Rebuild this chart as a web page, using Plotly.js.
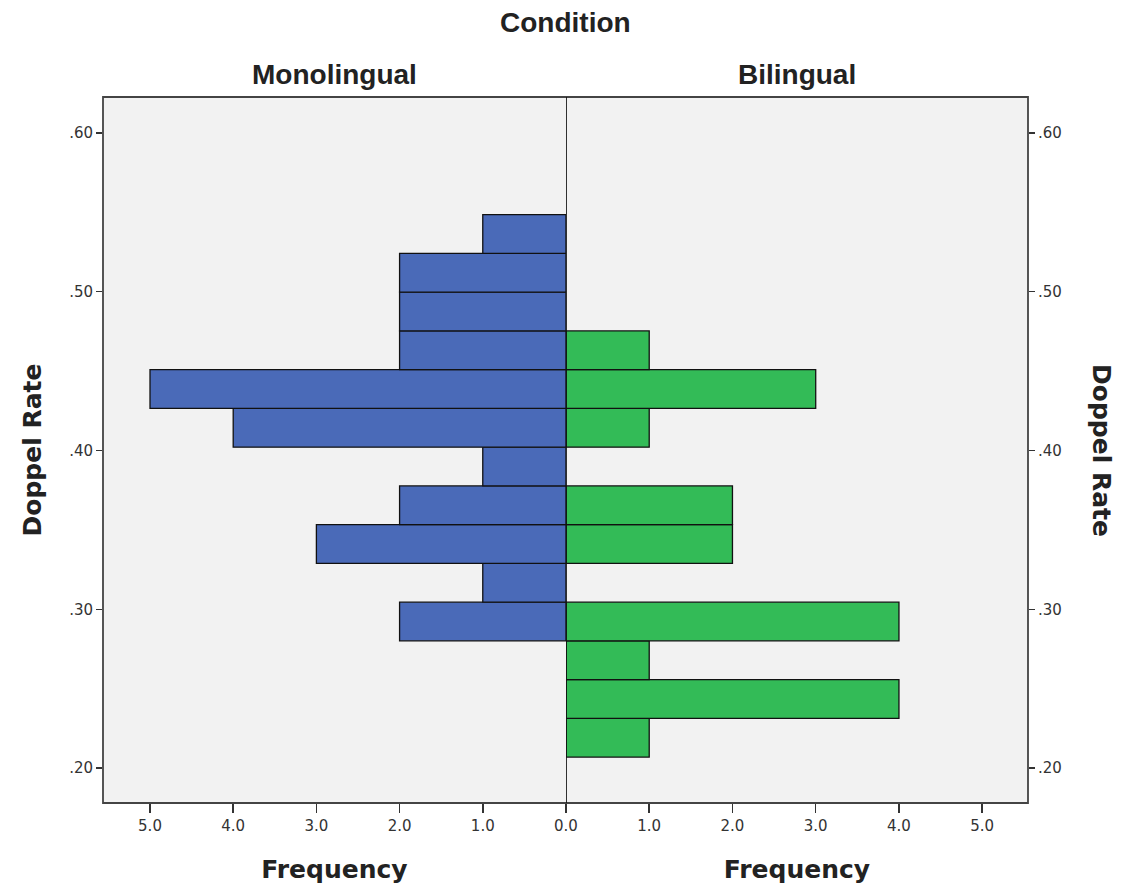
<!DOCTYPE html>
<html>
<head>
<meta charset="utf-8">
<script src="https://cdn.plot.ly/plotly-3.0.1.min.js"></script>
<style>html,body{margin:0;padding:0;background:#fff}#chart{width:1126px;height:887px}</style>
</head>
<body>
<div id="chart"></div>
<script>
// Histogram bins (centre of each bin on Doppel Rate)
var binCenters = [0.2191, 0.2435, 0.2679, 0.2923, 0.3167, 0.3411, 0.3655, 0.3899, 0.4143, 0.4387, 0.4631, 0.4875, 0.5119, 0.5363];
var binWidth = 0.0244;
var monolingualCounts = [null, null, null, 2, 1, 3, 2, 1, 4, 5, 2, 2, 2, 1];
var bilingualCounts   = [1, 4, 1, 4, null, 2, 2, null, 1, 3, 1, null, null, null];
var panelNames = ['Monolingual', 'Bilingual'];
var yTickVals = [0.2, 0.3, 0.4, 0.5, 0.6];
var yTickText = ['.20', '.30', '.40', '.50', '.60'];
var xTickValsLeft = [1, 2, 3, 4, 5];
var xTickTextLeft = ['1.0', '2.0', '3.0', '4.0', '5.0'];
var xTickValsRight = [0, 1, 2, 3, 4, 5];
var xTickTextRight = ['0.0', '1.0', '2.0', '3.0', '4.0', '5.0'];

var widths = binCenters.map(function(){ return binWidth; });
var yRange = [0.178, 0.6226];
var tickFont = {family: 'DejaVu Sans, sans-serif', size: 15, color: '#333'};
var boldFont = {family: 'DejaVu Sans, sans-serif', size: 25, color: '#222', weight: 'bold'};
var narrowFont = {family: 'Liberation Sans Narrow, Arial Narrow, Liberation Sans, sans-serif', size: 28, color: '#222', weight: 'bold'};

var traces = [
  {type: 'bar', orientation: 'h', name: panelNames[0], y: binCenters, x: monolingualCounts, width: widths,
   xaxis: 'x', yaxis: 'y', marker: {color: '#4a6ab8', line: {color: '#111', width: 1.3}}, hoverinfo: 'x+y'},
  {type: 'bar', orientation: 'h', name: panelNames[1], y: binCenters, x: bilingualCounts, width: widths,
   xaxis: 'x2', yaxis: 'y', marker: {color: '#33bb57', line: {color: '#111', width: 1.3}}, hoverinfo: 'x+y'},
  {type: 'scatter', mode: 'markers', x: [0], y: [0.4], xaxis: 'x2', yaxis: 'y2', marker: {opacity: 0}, hoverinfo: 'skip', showlegend: false}
];

var layout = {
  width: 1126, height: 887,
  margin: {l: 103, r: 98, t: 97, b: 84},
  paper_bgcolor: '#ffffff',
  plot_bgcolor: '#f2f2f2',
  showlegend: false,
  bargap: 0,
  xaxis: {domain: [0, 0.5005], range: [5.565, 0], tickvals: xTickValsLeft, ticktext: xTickTextLeft,
    ticks: 'outside', ticklen: 9, tickwidth: 1.5, tickcolor: '#333', tickfont: tickFont, showgrid: false, zeroline: false,
    showline: false, anchor: 'y',
    title: {text: 'Frequency', font: boldFont, standoff: 26}},
  xaxis2: {domain: [0.5005, 1], range: [0, 5.55], tickvals: xTickValsRight, ticktext: xTickTextRight,
    ticks: 'outside', ticklen: 9, tickwidth: 1.5, tickcolor: '#333', tickfont: tickFont, showgrid: false, zeroline: false,
    showline: false, anchor: 'y',
    title: {text: 'Frequency', font: boldFont, standoff: 26}},
  yaxis: {range: yRange, tickvals: yTickVals, ticktext: yTickText, ticks: 'outside', ticklen: 6, tickwidth: 1.5,
    tickcolor: '#333', tickfont: tickFont, showgrid: false, zeroline: false, showline: false, anchor: 'x',
    title: {text: 'Doppel Rate', font: boldFont, standoff: 20}},
  yaxis2: {range: yRange, tickvals: yTickVals, ticktext: yTickText, ticks: 'outside', ticklen: 6, tickwidth: 1.5,
    tickcolor: '#333', tickfont: tickFont, showgrid: false, zeroline: false, showline: false,
    overlaying: 'y', side: 'right', anchor: 'x2'},
  shapes: [
    {type: 'rect', xref: 'paper', yref: 'paper', x0: 0, x1: 1, y0: 0, y1: 1, line: {color: '#444', width: 1.8}, layer: 'above'},
    {type: 'line', xref: 'x2', yref: 'paper', x0: 0, x1: 0, y0: 0, y1: 1, line: {color: '#111', width: 1.8}, layer: 'above'}
  ],
  annotations: [
    {text: 'Condition', xref: 'paper', yref: 'paper', x: 0.5005, y: 1, yshift: 75, showarrow: false, font: narrowFont, xanchor: 'center', yanchor: 'middle'},
    {text: panelNames[0], xref: 'paper', yref: 'paper', x: 0.25, y: 1, yshift: 23, showarrow: false, font: narrowFont, xanchor: 'center', yanchor: 'middle'},
    {text: panelNames[1], xref: 'paper', yref: 'paper', x: 0.75, y: 1, yshift: 23, showarrow: false, font: narrowFont, xanchor: 'center', yanchor: 'middle'},
    {text: 'Doppel Rate', xref: 'paper', yref: 'paper', x: 1, xshift: 74, y: 0.5, showarrow: false, font: boldFont, textangle: 90, xanchor: 'center', yanchor: 'middle'}
  ]
};

Plotly.newPlot('chart', traces, layout, {displayModeBar: false, staticPlot: true});
</script>
</body>
</html>
